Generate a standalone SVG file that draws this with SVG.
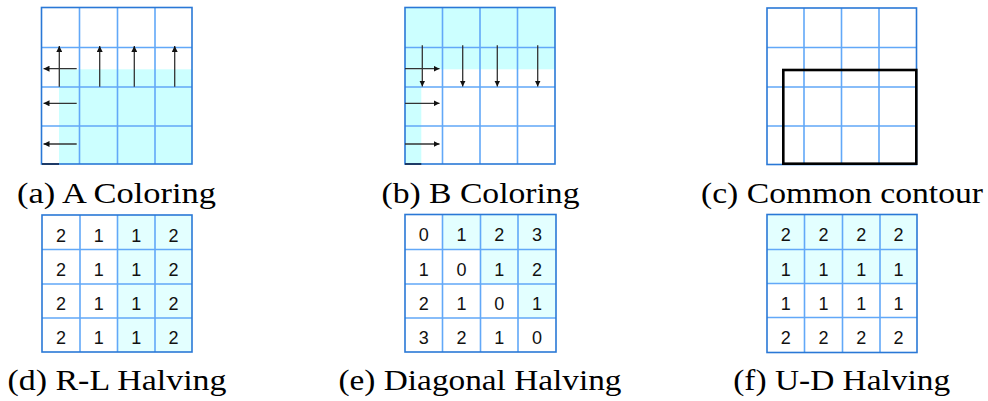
<svg xmlns="http://www.w3.org/2000/svg" width="988" height="401" viewBox="0 0 988 401">
<defs>
<style>
.in{stroke:#62a8f8;stroke-width:1.6;fill:none}
.out{stroke:#2a78d6;stroke-width:1.6;fill:none}
.cy{fill:#ccffff}
.lc{fill:#e3ffff}
.arr{stroke:#333;stroke-width:1.3;fill:none;marker-end:url(#ah)}
.cap{font-family:"Liberation Serif","DejaVu Serif",serif;font-size:30px;fill:#000;text-anchor:middle}
.num{font-family:"Liberation Sans",Arial,sans-serif;font-size:18px;fill:#111;text-anchor:middle}
</style>
<marker id="ah" viewBox="0 0 10 10" refX="10" refY="5" markerWidth="6" markerHeight="6" markerUnits="userSpaceOnUse" orient="auto">
<path d="M0,0 L10,5 L0,10 z" fill="#111"/>
</marker>
</defs>
<rect width="988" height="401" fill="#fff"/>

<g id="gridA">
<rect class="cy" x="59" y="69.3" width="133" height="94.7"/>
<path class="in" d="M79.5,7.5V164M117.5,7.5V164M155,7.5V164M41.5,47.5H192M41.5,87H192M41.5,126H192"/>
<rect class="out" x="41.5" y="7.5" width="150.5" height="156.5"/>
<line x1="42" y1="164" x2="59" y2="164" stroke="#1d3a66" stroke-width="2"/>
<g id="arrowsA">
<line class="arr" x1="59.3" y1="86.7" x2="59.3" y2="46"/>
<line class="arr" x1="99.7" y1="86.7" x2="99.7" y2="46"/>
<line class="arr" x1="134.3" y1="86.7" x2="134.3" y2="46"/>
<line class="arr" x1="174.7" y1="86.7" x2="174.7" y2="46"/>
<line class="arr" x1="76.7" y1="68.7" x2="43.5" y2="68.7"/>
<line class="arr" x1="76.7" y1="103.3" x2="43.5" y2="103.3"/>
<line class="arr" x1="76.7" y1="144" x2="43.5" y2="144"/>
</g>
<text class="cap" x="116.5" y="203" textLength="199" lengthAdjust="spacingAndGlyphs">(a) A Coloring</text>
</g>

<g id="gridB">
<rect class="cy" x="405" y="7.5" width="150" height="61.8"/>
<rect class="cy" x="405" y="69.3" width="16.3" height="94.7"/>
<path class="in" d="M442.5,7.5V164M480,7.5V164M517.5,7.5V164M405,47.5H555M405,87H555M405,126H555"/>
<rect class="out" x="405" y="7.5" width="150" height="156.5"/>
<line x1="405" y1="164" x2="421.3" y2="164" stroke="#1d3a66" stroke-width="2"/>
<g id="arrowsB">
<line class="arr" x1="422.3" y1="45.3" x2="422.3" y2="86.5"/>
<line class="arr" x1="462.7" y1="45.3" x2="462.7" y2="86.5"/>
<line class="arr" x1="497.3" y1="45.3" x2="497.3" y2="86.5"/>
<line class="arr" x1="537.7" y1="45.3" x2="537.7" y2="86.5"/>
<line class="arr" x1="405" y1="68.7" x2="439.5" y2="68.7"/>
<line class="arr" x1="405" y1="103.3" x2="439.5" y2="103.3"/>
<line class="arr" x1="405" y1="144" x2="439.5" y2="144"/>
</g>
<text class="cap" x="480.5" y="203" textLength="198" lengthAdjust="spacingAndGlyphs">(b) B Coloring</text>
</g>

<g id="gridC">
<path class="in" d="M804,8V164.5M841.5,8V164.5M879,8V164.5M767,47.5H916.5M767,87H916.5M767,126H916.5"/>
<rect class="out" x="767" y="8" width="149.5" height="156.5"/>
<rect x="783.3" y="70" width="133" height="93.7" fill="none" stroke="#000" stroke-width="2.6"/>
<text class="cap" x="842" y="203" textLength="282" lengthAdjust="spacingAndGlyphs">(c) Common contour</text>
</g>

<g id="gridD">
<rect class="lc" x="117.5" y="215" width="74.5" height="137"/>
<path class="in" d="M80,215V352M117.5,215V352M155,215V352M42,249.5H192M42,284H192M42,318H192"/>
<rect class="out" x="42" y="215" width="150" height="137"/>
<g class="num">
<text x="61" y="241.5">2</text><text x="98.7" y="241.5">1</text><text x="136.3" y="241.5">1</text><text x="173.5" y="241.5">2</text>
<text x="61" y="276">2</text><text x="98.7" y="276">1</text><text x="136.3" y="276">1</text><text x="173.5" y="276">2</text>
<text x="61" y="310">2</text><text x="98.7" y="310">1</text><text x="136.3" y="310">1</text><text x="173.5" y="310">2</text>
<text x="61" y="344">2</text><text x="98.7" y="344">1</text><text x="136.3" y="344">1</text><text x="173.5" y="344">2</text>
</g>
<text class="cap" x="117" y="390" textLength="219" lengthAdjust="spacingAndGlyphs">(d) R-L Halving</text>
</g>

<g id="gridE">
<rect class="lc" x="442.5" y="214.5" width="113.5" height="35"/>
<rect class="lc" x="480.5" y="249.5" width="75.5" height="34.5"/>
<rect class="lc" x="518" y="284" width="38" height="34"/>
<path class="in" d="M442.5,214.5V352M480.5,214.5V352M518,214.5V352M405,249.5H556M405,284H556M405,318H556"/>
<rect class="out" x="405" y="214.5" width="151" height="137.5"/>
<g class="num">
<text x="423.7" y="241">0</text><text x="461.5" y="241">1</text><text x="499.2" y="241">2</text><text x="537" y="241">3</text>
<text x="423.7" y="276">1</text><text x="461.5" y="276">0</text><text x="499.2" y="276">1</text><text x="537" y="276">2</text>
<text x="423.7" y="310">2</text><text x="461.5" y="310">1</text><text x="499.2" y="310">0</text><text x="537" y="310">1</text>
<text x="423.7" y="344">3</text><text x="461.5" y="344">2</text><text x="499.2" y="344">1</text><text x="537" y="344">0</text>
</g>
<text class="cap" x="480" y="390" textLength="283" lengthAdjust="spacingAndGlyphs">(e) Diagonal Halving</text>
</g>

<g id="gridF">
<rect class="lc" x="767" y="214.5" width="150" height="69"/>
<path class="in" d="M804.5,214.5V352.5M842.5,214.5V352.5M880,214.5V352.5M767,249.5H917M767,283.5H917M767,317.5H917"/>
<rect class="out" x="767" y="214.5" width="150" height="138"/>
<g class="num">
<text x="785.7" y="241">2</text><text x="823.5" y="241">2</text><text x="861.2" y="241">2</text><text x="898.5" y="241">2</text>
<text x="785.7" y="275.5">1</text><text x="823.5" y="275.5">1</text><text x="861.2" y="275.5">1</text><text x="898.5" y="275.5">1</text>
<text x="785.7" y="309.5">1</text><text x="823.5" y="309.5">1</text><text x="861.2" y="309.5">1</text><text x="898.5" y="309.5">1</text>
<text x="785.7" y="344">2</text><text x="823.5" y="344">2</text><text x="861.2" y="344">2</text><text x="898.5" y="344">2</text>
</g>
<text class="cap" x="841.7" y="390" textLength="217" lengthAdjust="spacingAndGlyphs">(f) U-D Halving</text>
</g>
</svg>
